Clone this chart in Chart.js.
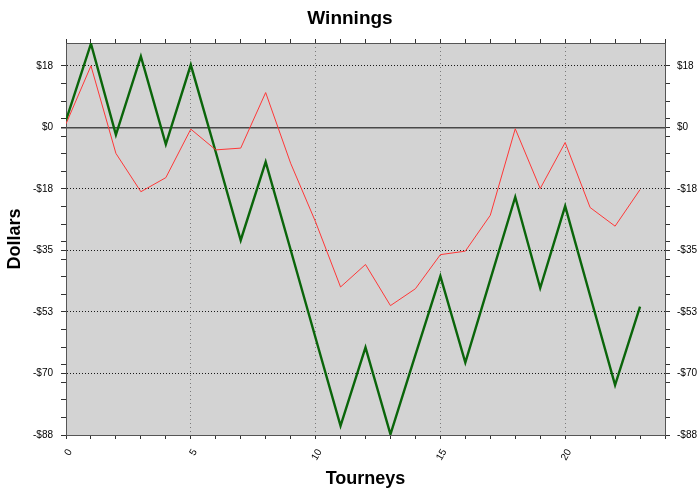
<!DOCTYPE html>
<html>
<head>
<meta charset="utf-8">
<title>Winnings</title>
<script src="https://cdn.jsdelivr.net/npm/chart.js@4.4.0/dist/chart.umd.min.js"></script>
<style>
  html, body { margin: 0; padding: 0; background: #fff; }
</style>
</head>
<body>
<canvas id="myChart" width="700" height="496"></canvas>
<script>
// chart data
var tourneys = [0, 1, 2, 3, 4, 5, 6, 7, 8, 9, 10, 11, 12, 13, 14, 15, 16, 17, 18, 19, 20, 21, 22, 23];
var winningsA = [2, 23.8, -2.1, 20.2, -4.8, 17.8, -7, -32.1, -9.8, -34.8, -59.9, -84.9, -62.6, -87.3, -64.7, -42.3, -66.9, -43.3, -19.8, -45.7, -22.4, -47.9, -73.3, -51];
var winningsB = [1, 17.5, -7.4, -18.3, -14.3, -0.5, -6.4, -5.9, 9.9, -10.2, -26.9, -45.4, -39, -50.7, -45.9, -36.2, -35.2, -25, -0.4, -17.4, -4.3, -22.8, -28.1, -17.7];
var xTicks = [0, 5, 10, 15, 20];
var yTicks = [-87.5, -70, -52.5, -35, -17.5, 0, 17.5];
var yMin = -87.5, yMax = 24;

Chart.defaults.font.family = '"Liberation Sans", Arial, sans-serif';
Chart.defaults.color = '#000';

function fmtDollar(v) {
  return (v < 0 ? '-' : '') + '$' + Math.round(Math.abs(v));
}
function isMajorY(v) {
  return yTicks.some(function (t) { return Math.abs(t - v) < 1e-6; });
}
function isMinorY(v) {
  var k = Math.round(v * 2);
  return Math.abs(v * 2 - k) < 1e-6 && Math.abs(k % 10) === 5;
}
function yTickColor(c) {
  if (!c.tick) return 'transparent';
  return (isMajorY(c.tick.value) || isMinorY(c.tick.value)) ? '#333' : 'transparent';
}
function yLabel(v) {
  return isMajorY(v) ? fmtDollar(v) : '';
}

// grey plot background
var plotBg = {
  id: 'plotBg',
  beforeDraw: function (chart) {
    var a = chart.chartArea, ctx = chart.ctx;
    ctx.save();
    ctx.fillStyle = '#d3d3d3';
    ctx.fillRect(a.left, a.top, a.right - a.left, a.bottom - a.top);
    ctx.restore();
  }
};

function points(vals) {
  return tourneys.map(function (t, i) { return { x: t, y: vals[i] }; });
}

var ctx = document.getElementById('myChart').getContext('2d');
var myChart = new Chart(ctx, {
  type: 'line',
  data: {
    datasets: [{
      label: 'B',
      data: points(winningsB),
      borderColor: '#ff3838',
      borderWidth: 1,
      pointRadius: 0,
      tension: 0,
      xAxisID: 'x',
      yAxisID: 'y'
    }, {
      label: 'A',
      data: points(winningsA),
      borderColor: '#0a650a',
      borderWidth: 2.4,
      pointRadius: 0,
      tension: 0,
      xAxisID: 'x',
      yAxisID: 'y'
    }]
  },
  options: {
    responsive: false,
    animation: false,
    layout: { padding: 0 },
    plugins: {
      legend: { display: false },
      tooltip: { enabled: false },
      title: {
        display: true,
        text: 'Winnings',
        font: { size: 19, weight: 'bold' },
        padding: { top: 7, bottom: 0 }
      }
    },
    scales: {
      x: {
        type: 'linear',
        position: 'bottom',
        min: 0,
        max: 24,
        ticks: {
          stepSize: 1,
          autoSkip: false,
          minRotation: 60,
          maxRotation: 60,
          padding: 8,
          labelOffset: 4,
          font: { size: 10 },
          callback: function (v) { return xTicks.indexOf(v) >= 0 ? String(v) : ''; }
        },
        grid: {
          color: function (c) {
            return (c.tick && c.tick.value !== 0 && xTicks.indexOf(c.tick.value) >= 0) ? '#7a7a7a' : 'transparent';
          },
          tickColor: '#333',
          tickLength: 4
        },
        border: { color: '#555', width: 1, dash: [1, 3] },
        title: {
          display: true,
          text: 'Tourneys',
          font: { size: 18, weight: 'bold' },
          padding: { top: 4, bottom: 6 }
        },
        afterFit: function (s) { s.height = 61; }
      },
      xTop: {
        type: 'linear',
        position: 'top',
        min: 0,
        max: 24,
        ticks: { stepSize: 1, display: false },
        grid: { drawOnChartArea: false, tickColor: '#333', tickLength: 4 },
        border: { color: '#555', width: 1 },
        afterFit: function (s) { s.height = 13.2; }
      },
      y: {
        type: 'linear',
        position: 'left',
        min: yMin,
        max: yMax,
        ticks: {
          stepSize: 2.5,
          autoSkip: false,
          padding: 8,
          font: { size: 10 },
          callback: yLabel
        },
        grid: {
          color: function (c) {
            if (!c.tick || !isMajorY(c.tick.value) || c.tick.value === yMin) return 'transparent';
            return c.tick.value === 0 ? '#484848' : '#1a1a1a';
          },
          lineWidth: function (c) { return (c.tick && c.tick.value === 0) ? 1.5 : 1; },
          tickColor: yTickColor,
          tickLength: 5
        },
        border: {
          color: '#555',
          width: 1,
          dash: function (c) { return (c.tick && c.tick.value === 0) ? [] : [1, 2]; }
        },
        title: {
          display: true,
          text: 'Dollars',
          font: { size: 18, weight: 'bold' },
          padding: { top: 4, bottom: 0 }
        },
        afterFit: function (s) { s.width = 66; }
      },
      yRight: {
        type: 'linear',
        position: 'right',
        min: yMin,
        max: yMax,
        ticks: {
          stepSize: 2.5,
          autoSkip: false,
          padding: 7,
          font: { size: 10 },
          callback: yLabel
        },
        grid: { drawOnChartArea: false, tickColor: yTickColor, tickLength: 5 },
        border: { color: '#555', width: 1 },
        afterFit: function (s) { s.width = 35; }
      }
    }
  },
  plugins: [plotBg]
});
</script>
</body>
</html>
